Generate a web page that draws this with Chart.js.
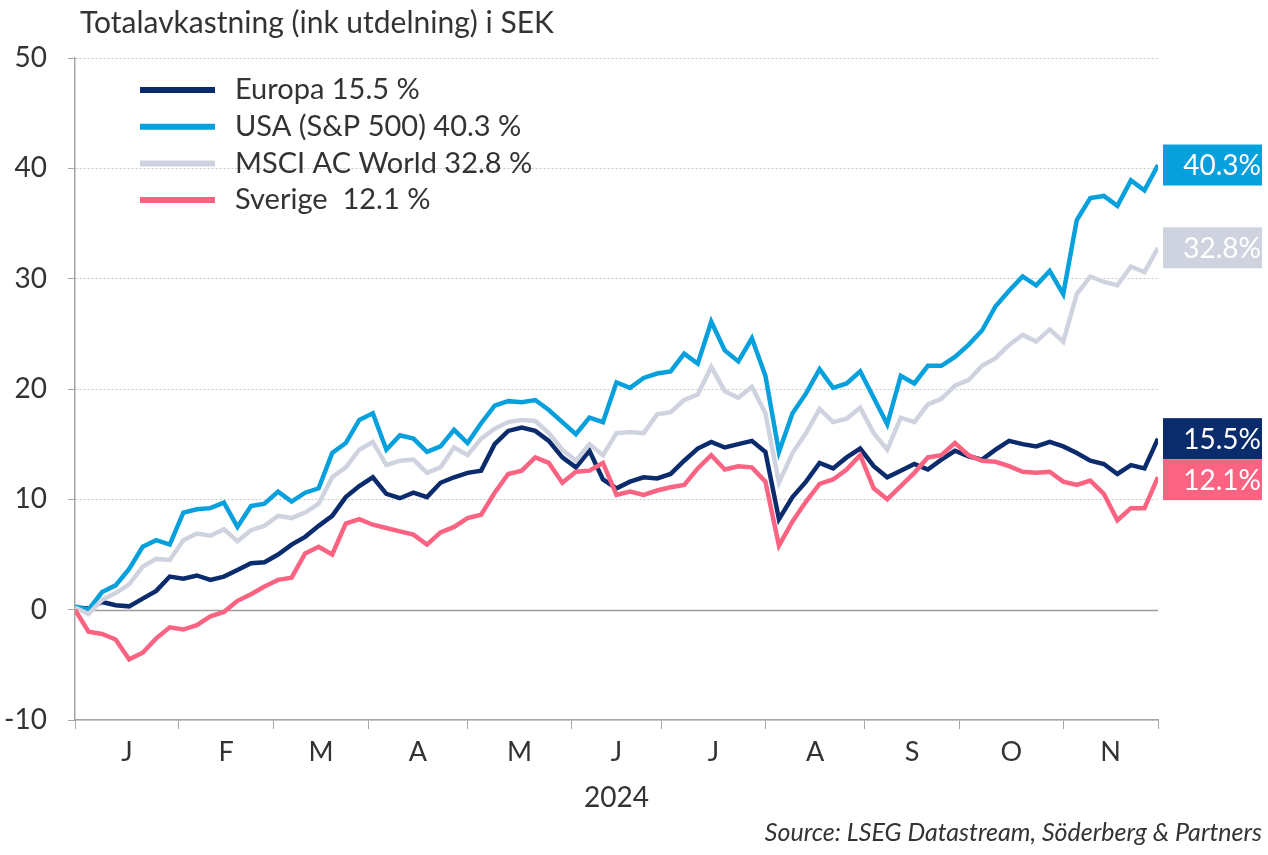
<!DOCTYPE html>
<html>
<head>
<meta charset="utf-8">
<script src="https://cdn.jsdelivr.net/npm/chart.js@4/dist/chart.umd.min.js"></script>
<style>
  html, body { margin: 0; padding: 0; background: #fff; }
  #wrap { width: 1268px; height: 855px; }
</style>
</head>
<body>
<div id="wrap"><canvas id="chart"></canvas></div>
<script>
// one sample every 3 weekdays, from the start of January to the end of November 2024
const STEP = 3;
const monthLabels = ['J', 'F', 'M', 'A', 'M', 'J', 'J', 'A', 'S', 'O', 'N'];
const monthDays = [23, 21, 21, 22, 23, 20, 23, 22, 21, 23, 21];

const seriesNames = ['Europa 15.5 %', 'USA (S&P 500) 40.3 %', 'MSCI AC World 32.8 %', 'Sverige  12.1 %'];
const endLabels = ['15.5%', '40.3%', '32.8%', '12.1%'];

const europa = [
  0.2, 0.1, 0.7, 0.4, 0.3, 1.0, 1.7, 3.0, 2.8,
  3.1, 2.7, 3.0, 3.6, 4.2, 4.3, 5.0, 5.9, 6.6,
  7.6, 8.5, 10.2, 11.2, 12.0, 10.5, 10.1, 10.6, 10.2,
  11.5, 12.0, 12.4, 12.6, 15.0, 16.2, 16.5, 16.2, 15.3,
  13.8, 12.9, 14.4, 11.8, 11.0, 11.6, 12.0, 11.9, 12.3,
  13.5, 14.6, 15.2, 14.7, 15.0, 15.3, 14.3, 8.2, 10.2,
  11.6, 13.3, 12.8, 13.8, 14.6, 13.0, 12.0, 12.6, 13.2,
  12.7, 13.6, 14.4, 13.9, 13.6, 14.5, 15.3, 15.0, 14.8,
  15.2, 14.8, 14.2, 13.5, 13.2, 12.3, 13.1, 12.8, 15.5
];
const usa = [
  0.3, 0.0, 1.6, 2.2, 3.7, 5.7, 6.3, 5.9, 8.8,
  9.1, 9.2, 9.7, 7.5, 9.4, 9.6, 10.7, 9.8, 10.6,
  11.0, 14.2, 15.1, 17.2, 17.8, 14.5, 15.8, 15.5, 14.3,
  14.8, 16.3, 15.1, 16.9, 18.5, 18.9, 18.8, 19.0, 18.1,
  17.0, 15.9, 17.4, 17.0, 20.6, 20.1, 21.0, 21.4, 21.6,
  23.2, 22.3, 26.1, 23.5, 22.5, 24.6, 21.2, 14.3, 17.8,
  19.6, 21.8, 20.1, 20.5, 21.6, 19.2, 16.8, 21.2, 20.5,
  22.1, 22.1, 22.9, 24.0, 25.3, 27.5, 28.9, 30.2, 29.4,
  30.7, 28.6, 35.3, 37.3, 37.5, 36.6, 38.9, 38.0, 40.3
];
const msci = [
  0.2, -0.4, 0.9, 1.5, 2.3, 3.9, 4.6, 4.5, 6.3,
  6.9, 6.7, 7.3, 6.2, 7.2, 7.6, 8.5, 8.3, 8.8,
  9.6, 12.0, 12.9, 14.5, 15.2, 13.1, 13.5, 13.6, 12.4,
  12.9, 14.7, 14.0, 15.5, 16.4, 17.0, 17.2, 17.1, 16.0,
  14.5, 13.5, 15.0, 14.0, 16.0, 16.1, 16.0, 17.7, 17.9,
  19.0, 19.5, 22.0, 19.8, 19.2, 20.2, 17.8, 11.5, 14.2,
  16.0, 18.2, 17.0, 17.3, 18.3, 16.0, 14.5, 17.4, 17.0,
  18.6, 19.1, 20.3, 20.8, 22.1, 22.8, 24.0, 24.9, 24.3,
  25.4, 24.3, 28.6, 30.2, 29.7, 29.4, 31.1, 30.6, 32.8
];
const sverige = [
  0.0, -2.0, -2.2, -2.7, -4.5, -3.9, -2.6, -1.6, -1.8,
  -1.4, -0.6, -0.2, 0.8, 1.4, 2.1, 2.7, 2.9, 5.1,
  5.7, 5.0, 7.8, 8.2, 7.7, 7.4, 7.1, 6.8, 5.9,
  7.0, 7.5, 8.3, 8.6, 10.6, 12.3, 12.6, 13.8, 13.3,
  11.5, 12.5, 12.6, 13.3, 10.4, 10.7, 10.4, 10.8, 11.1,
  11.3, 12.8, 14.0, 12.7, 13.0, 12.9, 11.6, 5.8, 8.0,
  9.8, 11.4, 11.8, 12.7, 14.0, 11.0, 10.0, 11.2, 12.4,
  13.8, 14.0, 15.1, 14.0, 13.5, 13.4, 13.0, 12.5, 12.4,
  12.5, 11.6, 11.3, 11.7, 10.5, 8.1, 9.2, 9.2, 12.0
];

const colors = ['#0b2c6c', '#06a0dd', '#cfd3df', '#fa6482'];
const textColor = '#333333';
const axisColor = '#a6a6a6';

// month boundaries (in weekdays) and label positions in the middle of each month
const boundaries = [0];
monthDays.forEach(d => boundaries.push(boundaries[boundaries.length - 1] + d));
const tickLabel = new Map();
boundaries.forEach(b => tickLabel.set(b, ''));
monthLabels.forEach((m, i) => tickLabel.set((boundaries[i] + boundaries[i + 1]) / 2, m));
const xTicks = [...tickLabel.keys()].sort((a, b) => a - b);
const lastDay = boundaries[boundaries.length - 1];

const toPoints = arr => arr.map((v, i) => ({ x: i * STEP, y: v }));
const seriesData = [europa, usa, msci, sverige];

Chart.defaults.font.family = 'Lato, "Open Sans", sans-serif';
Chart.defaults.color = textColor;

const zeroLine = {
  id: 'zeroLine',
  beforeDatasetsDraw(chart) {
    const { ctx, chartArea, scales } = chart;
    const y = Math.round(scales.y.getPixelForValue(0)) + 0.5;
    ctx.save();
    ctx.strokeStyle = '#9c9c9c';
    ctx.lineWidth = 1.5;
    ctx.beginPath();
    ctx.moveTo(chartArea.left, y);
    ctx.lineTo(chartArea.right, y);
    ctx.stroke();
    ctx.restore();
  }
};

const insideLegend = {
  id: 'insideLegend',
  afterDraw(chart) {
    const { ctx, chartArea } = chart;
    ctx.save();
    ctx.font = '29px Lato';
    ctx.textBaseline = 'middle';
    chart.data.datasets.forEach((ds, i) => {
      const y = chartArea.top + 32 + i * 36.7;
      ctx.strokeStyle = ds.borderColor;
      ctx.lineWidth = 6;
      ctx.beginPath();
      ctx.moveTo(chartArea.left + 65, y);
      ctx.lineTo(chartArea.left + 140, y);
      ctx.stroke();
      ctx.fillStyle = textColor;
      ctx.fillText(ds.label, chartArea.left + 160, y);
    });
    ctx.restore();
  }
};

// coloured value boxes to the right of the last points
const endBoxes = {
  id: 'endBoxes',
  afterDatasetsDraw(chart) {
    const { ctx, chartArea, scales, width } = chart;
    const h = 41;
    const boxes = chart.data.datasets.map((ds, i) => ({
      y: scales.y.getPixelForValue(ds.data[ds.data.length - 1].y) - h / 2,
      color: ds.borderColor,
      text: endLabels[i]
    })).sort((a, b) => a.y - b.y);
    for (let i = 1; i < boxes.length; i++) {
      if (boxes[i].y < boxes[i - 1].y + h) boxes[i].y = boxes[i - 1].y + h;
    }
    const left = chartArea.right + 5;
    const right = width - 6;
    ctx.save();
    ctx.font = '28px Lato';
    ctx.textAlign = 'right';
    ctx.textBaseline = 'middle';
    boxes.forEach(b => {
      ctx.fillStyle = b.color;
      ctx.fillRect(left, b.y, right - left, h);
      ctx.fillStyle = '#ffffff';
      ctx.fillText(b.text, right - 1, b.y + h / 2 + 1);
    });
    ctx.restore();
  }
};

const texts = {
  id: 'texts',
  afterDraw(chart) {
    const { ctx, chartArea, width, height } = chart;
    ctx.save();
    ctx.fillStyle = textColor;
    ctx.textBaseline = 'middle';
    ctx.font = '30px Lato';
    ctx.fillText('Totalavkastning (ink utdelning) i SEK', chartArea.left + 5, 23);
    ctx.font = 'italic 25px Lato';
    ctx.textAlign = 'right';
    ctx.fillText('Source: LSEG Datastream, Söderberg & Partners', width - 6, height - 22);
    ctx.restore();
  }
};

new Chart(document.getElementById('chart'), {
  type: 'line',
  data: {
    datasets: seriesNames.map((name, i) => ({
      label: name,
      data: toPoints(seriesData[i]),
      borderColor: colors[i],
      backgroundColor: colors[i],
      borderWidth: 4.5,
      pointRadius: 0,
      tension: 0,
      order: seriesNames.length - i
    }))
  },
  options: {
    responsive: true,
    maintainAspectRatio: false,
    animation: false,
    layout: { padding: { top: 58, right: 110, left: 0, bottom: 0 } },
    plugins: {
      legend: { display: false },
      tooltip: { enabled: false }
    },
    scales: {
      x: {
        type: 'linear',
        min: 0,
        max: lastDay,
        afterBuildTicks: scale => { scale.ticks = xTicks.map(v => ({ value: v })); },
        afterFit: scale => { scale.height = 135; },
        ticks: {
          autoSkip: false,
          maxRotation: 0,
          padding: 7,
          font: { size: 27 },
          callback: value => tickLabel.get(value)
        },
        grid: {
          drawOnChartArea: false,
          tickLength: 9,
          tickColor: ctx => (ctx.tick && boundaries.includes(ctx.tick.value)) ? axisColor : 'rgba(0,0,0,0)'
        },
        border: { color: axisColor, width: 1.5 },
        title: {
          display: true,
          text: '2024',
          font: { size: 28 },
          padding: { top: 0, bottom: 40 }
        }
      },
      y: {
        min: -10,
        max: 50,
        afterFit: scale => { scale.width = 75; },
        ticks: {
          stepSize: 10,
          padding: 21,
          font: { size: 28 }
        },
        grid: {
          color: ctx => ctx.tick && ctx.tick.value === 0 ? 'rgba(0,0,0,0)' : '#c8c8c8',
          lineWidth: 1,
          tickLength: 7,
          tickColor: axisColor
        },
        border: { color: axisColor, width: 1.5, dash: [2, 2] }
      }
    }
  },
  plugins: [zeroLine, endBoxes, insideLegend, texts]
});
</script>
</body>
</html>
